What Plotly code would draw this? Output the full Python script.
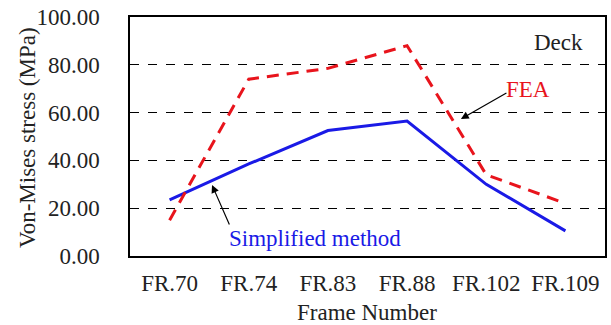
import plotly.graph_objects as go

frames = ["FR.70", "FR.74", "FR.83", "FR.88", "FR.102", "FR.109"]
fea = [15.0, 74.0, 78.5, 88.0, 34.0, 22.0]
simplified = [23.5, 38.5, 52.5, 56.5, 30.0, 10.5]
y_ticks = [0, 20, 40, 60, 80, 100]
y_tick_labels = ["0.00", "20.00", "40.00", "60.00", "80.00", "100.00"]

FONT = "Liberation Serif, Times New Roman, serif"
RED = "#e8141c"
BLUE = "#1a1ae6"
TXT = "#222"
FS = 23

fig = go.Figure()
fig.add_trace(go.Scatter(x=frames, y=simplified, mode="lines",
                         line=dict(color=BLUE, width=3), name="Simplified method"))
fig.add_trace(go.Scatter(x=frames, y=fea, mode="lines",
                         line=dict(color=RED, width=3, dash="12px,8px"), name="FEA"))

fig.update_layout(
    width=611, height=325,
    margin=dict(l=130, r=6, t=17, b=69),
    paper_bgcolor="white", plot_bgcolor="white",
    showlegend=False,
    font=dict(family=FONT, size=FS, color=TXT),
    xaxis=dict(
        type="category", range=[-0.5, 5.5], automargin=False,
        showgrid=False, showline=True, linecolor="black", linewidth=1.5, mirror=True,
        ticks="", ticklabelstandoff=6,
        tickfont=dict(family=FONT, size=FS, color=TXT),
    ),
    yaxis=dict(
        range=[0, 100], tickvals=y_ticks, ticktext=y_tick_labels, automargin=False,
        showgrid=True, gridcolor="black", griddash="dash", gridwidth=1,
        showline=True, linecolor="black", linewidth=1.5, mirror=True,
        zeroline=False, ticks="", ticklabelstandoff=24,
        tickfont=dict(family=FONT, size=FS, color=TXT),
    ),
)

# axis titles
fig.add_annotation(xref="paper", yref="paper", x=(367 - 130) / 475, y=(256 - 312) / 239,
                   text="Frame Number", showarrow=False, xanchor="center", yanchor="middle",
                   font=dict(family=FONT, size=FS, color=TXT))
fig.add_annotation(xref="paper", yref="paper", x=(27 - 130) / 475, y=(256 - 138) / 239,
                   text="Von-Mises stress (MPa)", showarrow=False, textangle=-90,
                   xanchor="center", yanchor="middle",
                   font=dict(family=FONT, size=FS, color=TXT))

fig.add_annotation(x=4.91, y=89.5, text="Deck", showarrow=False,
                   font=dict(family=FONT, size=FS, color=TXT))
fig.add_annotation(x=4.53, y=69.5, text="FEA", showarrow=False,
                   font=dict(family=FONT, size=FS, color=RED))
fig.add_annotation(x=3.68, y=57.3, text="", showarrow=True, ax=47, ay=-27,
                   arrowhead=2, arrowsize=1.3, arrowwidth=1.2, arrowcolor="black")
fig.add_annotation(x=1.84, y=7.5, text="Simplified method", showarrow=False,
                   font=dict(family=FONT, size=FS, color=BLUE))
fig.add_annotation(x=0.536, y=29.7, text="", showarrow=True, ax=18, ay=41,
                   arrowhead=2, arrowsize=1.3, arrowwidth=1.2, arrowcolor="black")

fig.write_html("out.html", config={"displayModeBar": False},
               post_script="document.body.style.margin='0';")
